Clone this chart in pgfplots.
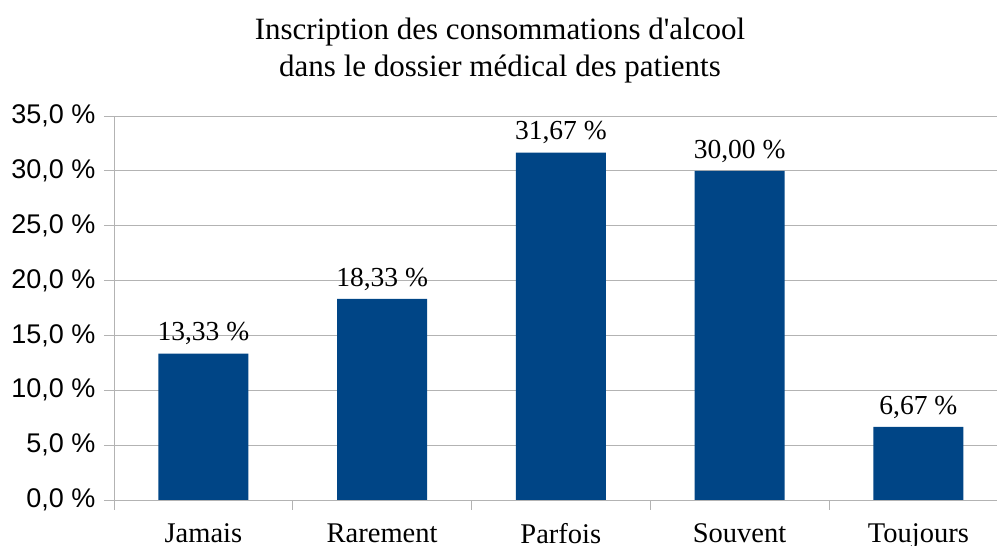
\documentclass[border=0pt]{standalone}
\usepackage{fontspec}
\setmainfont{Liberation Serif}
\newfontfamily\arial{Liberation Sans}
\usepackage{pgfplots}
\pgfplotsset{compat=1.18}
\definecolor{barblue}{HTML}{004586}
\definecolor{gridgray}{HTML}{B3B3B3}

\begin{document}
\begin{tikzpicture}
\begin{axis}[
    at={(0,0)}, anchor=south west,
    scale only axis,
    width=883pt, height=384pt,
    ymin=0, ymax=35,
    xmin=-0.5, xmax=4.44,
    ytick={0,5,...,35},
    xtick={0,1,2,3,4},
    xticklabels={Jamais,Rarement,Parfois,Souvent,Toujours},
    minor xtick={-0.5,0.5,1.5,2.5,3.5},
    major x tick style={draw=none},
    minor x tick style={draw=gridgray, thick},
    y tick style={draw=gridgray, thick},
    tick align=outside,
    major tick length=10pt, minor tick length=10pt,
    ymajorgrids,
    grid style={gridgray, thick},
    axis x line*=bottom, axis y line*=left,
    axis line style={gridgray, thick, -},
    yticklabel={\pgfmathprintnumber[fixed,fixed zerofill,precision=1,use comma]{\tick}~\%},
    /pgf/number format/assume math mode=true,
    yticklabel style={font=\arial\fontsize{27}{32}\selectfont, anchor=east, xshift=-5pt},
    xticklabel style={font=\fontsize{28.5}{34}\selectfont, anchor=north, yshift=-10pt},
    ybar, bar width=90pt,
    nodes near coords={\pgfmathprintnumber[fixed,fixed zerofill,precision=2,use comma]{\pgfplotspointmeta}~\%},
    nodes near coords style={font=\fontsize{27.5}{33}\selectfont, black, anchor=south, yshift=5pt},
    clip=false,
]
\addplot[fill=barblue, draw=none] coordinates {
    (0,13.33) (1,18.33) (2,31.67) (3,30.00) (4,6.67)
};
\end{axis}
\node[align=center, font=\fontsize{31}{37}\selectfont] at (386pt,449pt)
    {Inscription des consommations d\textquotesingle alcool\\dans le dossier médical des patients};
\pgfresetboundingbox
\path (-114pt,-46pt) rectangle (883pt,500pt);
\end{tikzpicture}
\end{document}
